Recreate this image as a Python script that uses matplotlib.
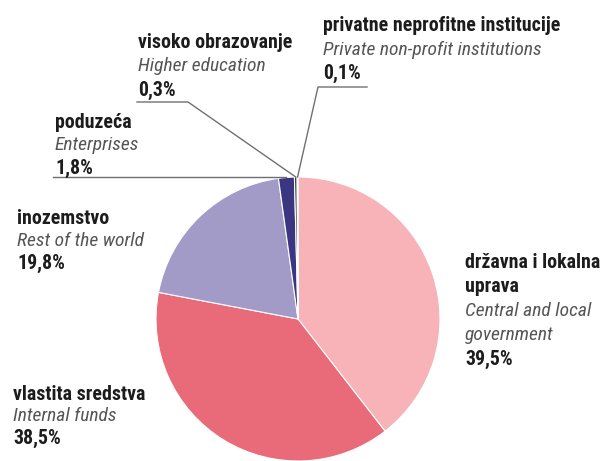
import matplotlib
matplotlib.use("Agg")
import numpy as np
import matplotlib.pyplot as plt

# data
names_hr = ["državna i lokalna\nuprava", "vlastita sredstva", "inozemstvo",
            "poduzeća", "visoko obrazovanje", "privatne neprofitne institucije"]
names_en = ["Central and local\ngovernment", "Internal funds", "Rest of the world",
            "Enterprises", "Higher education", "Private non-profit institutions"]
shares = [39.5, 38.5, 19.8, 1.8, 0.3, 0.1]
share_labels = ["39,5%", "38,5%", "19,8%", "1,8%", "0,3%", "0,1%"]
slice_colors = ["#f7b3b7", "#e96b79", "#a39bc7", "#3b3681", "#333333", "#e9a54b"]

W, H = 608, 461
FONT = ["Roboto Condensed", "Archivo Narrow", "DejaVu Sans"]
FS_B = 14.3   # bold lines
FS_I = 14.0   # italic english lines

fig = plt.figure(figsize=(W / 100, H / 100), dpi=100)
ax = fig.add_axes([0, 0, 1, 1])

cx, cy, r = 298, H - 319, 142
wedges, _ = ax.pie(shares, colors=slice_colors, startangle=90, counterclock=False,
                   center=(cx, cy), radius=r,
                   wedgeprops=dict(edgecolor="white", linewidth=0.8))
ax.set_xlim(0, W)
ax.set_ylim(0, H)
ax.set_aspect("equal")
ax.axis("off")


def label(x, y, i, step=23):
    # x, y: left edge and centre of the first line, in image pixels (y down)
    yy = y
    for t in names_hr[i].split("\n"):
        ax.text(x, H - yy, t, fontsize=FS_B, fontweight="bold", color="#1c1c1c",
                va="center", ha="left", family=FONT)
        yy += step
    for t in names_en[i].split("\n"):
        ax.text(x, H - yy, t, fontsize=FS_I, style="italic", color="#555555",
                va="center", ha="left", family=FONT)
        yy += step
    ax.text(x, H - yy, share_labels[i], fontsize=FS_B, fontweight="bold",
            color="#1c1c1c", va="center", ha="left", family=FONT)


def edge_point(w, frac=0.5):
    ang = np.deg2rad(w.theta1 + (w.theta2 - w.theta1) * frac)
    return cx + r * np.cos(ang), cy + r * np.sin(ang)


label(465, 263, 0, step=24)
label(13, 394, 1, step=22)
label(17, 219, 2, step=22)
label(55, 122, 3)
label(138, 43, 4, step=23.5)
label(323, 26, 5, step=23.5)

# leader lines
lc = dict(color="#707070", linewidth=1.0)
ex, ey = edge_point(wedges[3])
ax.plot([53, ex], [ey, ey], **lc)
ex, ey = edge_point(wedges[4])
ax.plot([137, 188, ex], [H - 102, H - 102, ey], **lc)
ex, ey = edge_point(wedges[5])
ax.plot([367, 318, ex], [H - 87, H - 87, ey], **lc)

fig.savefig("out.png", dpi=100, facecolor="white")
